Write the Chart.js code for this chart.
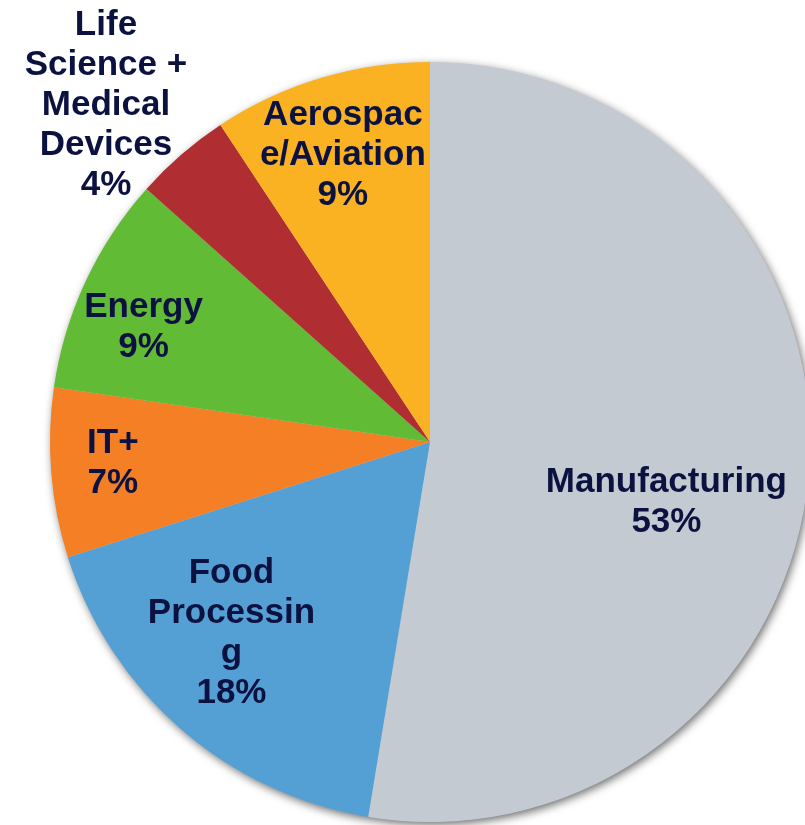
<!DOCTYPE html>
<html>
<head>
<meta charset="utf-8">
<script src="https://cdn.jsdelivr.net/npm/chart.js@4"></script>
<style>
  html, body { margin: 0; padding: 0; background: #fff; overflow: hidden; }
  #wrap { width: 805px; height: 825px; overflow: hidden; position: relative; }
  canvas { display: block; }
</style>
</head>
<body>
<div id="wrap"><canvas id="pie" width="810" height="825"></canvas></div>
<script>
// datos (porcentaje de cada sector)
var categories = ['Manufacturing', 'Food Processing', 'IT+', 'Energy', 'Life Science + Medical Devices', 'Aerospace/Aviation'];
var values = [52.6, 17.5, 7.2, 9.3, 4.1, 9.3];
var labelLines = [
  ['Manufacturing'],
  ['Food', 'Processin', 'g'],
  ['IT+'],
  ['Energy'],
  ['Life', 'Science +', 'Medical', 'Devices'],
  ['Aerospac', 'e/Aviation']
];
var colors = ['#C4CAD1', '#54A0D4', '#F47F24', '#62BB34', '#B02D31', '#FAB222'];

// donde va cada etiqueta: fraccion del angulo del sector y fraccion del radio
var labelAngleFrac = [0.547, 0.59, 0.55, 0.42, 0.31, 0.50];
var labelRadiusFrac = [0.64, 0.72, 0.836, 0.815, 1.235, 0.796];

// sombra suave alrededor del circulo
var shadowPlugin = {
  id: 'pieShadow',
  beforeDatasetsDraw: function(chart) {
    var arc = chart.getDatasetMeta(0).data[0];
    if (!arc) return;
    var ctx = chart.ctx;
    ctx.save();
    ctx.shadowColor = 'rgba(0,0,0,0.6)';
    ctx.shadowBlur = 10;
    ctx.shadowOffsetX = 2;
    ctx.shadowOffsetY = 3;
    ctx.fillStyle = colors[0];
    ctx.beginPath();
    ctx.arc(arc.x, arc.y, arc.outerRadius - 0.5, 0, Math.PI * 2);
    ctx.fill();
    ctx.restore();
  }
};

// etiquetas de texto dentro/fuera de los sectores
var labelPlugin = {
  id: 'sliceLabels',
  afterDatasetsDraw: function(chart) {
    var ctx = chart.ctx;
    var meta = chart.getDatasetMeta(0);
    ctx.save();
    ctx.font = 'bold 35px "Liberation Sans", Arial, sans-serif';
    ctx.fillStyle = '#0C1240';
    ctx.textAlign = 'center';
    ctx.textBaseline = 'alphabetic';
    meta.data.forEach(function(arc, i) {
      var p = arc.getProps(['x', 'y', 'startAngle', 'endAngle', 'outerRadius'], true);
      var a = p.startAngle + labelAngleFrac[i] * (p.endAngle - p.startAngle);
      var r = p.outerRadius * labelRadiusFrac[i];
      var cx = p.x + Math.cos(a) * r;
      var cy = p.y + Math.sin(a) * r;
      var lines = labelLines[i].concat([Math.round(values[i]) + '%']);
      var lh = 40;
      var first = cy - (lines.length - 1) * lh / 2 + 12.5;
      lines.forEach(function(t, k) {
        ctx.fillText(t, cx, first + k * lh);
      });
    });
    ctx.restore();
  }
};

var ctx = document.getElementById('pie').getContext('2d');
var myChart = new Chart(ctx, {
  type: 'pie',
  data: {
    labels: categories,
    datasets: [{
      data: values,
      backgroundColor: colors,
      borderWidth: 0
    }]
  },
  options: {
    responsive: false,
    animation: false,
    layout: { padding: { left: 50, top: 62, right: 0, bottom: 3 } },
    plugins: {
      legend: { display: false },
      tooltip: { enabled: false }
    }
  },
  plugins: [shadowPlugin, labelPlugin]
});
</script>
</body>
</html>
